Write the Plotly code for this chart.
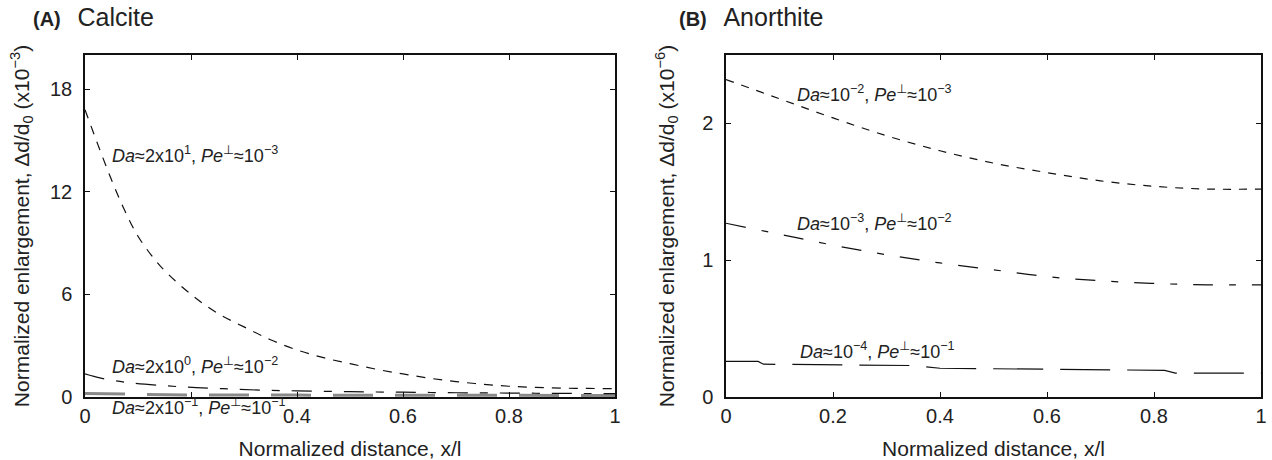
import plotly.graph_objects as go

# ---------------- data ----------------
x_a1 = [0, 0.025, 0.05, 0.075, 0.1, 0.125, 0.15, 0.2, 0.25, 0.3, 0.35, 0.4, 0.45, 0.5,
        0.55, 0.6, 0.65, 0.7, 0.75, 0.8, 0.85, 0.9, 0.95, 1.0]
y_a1 = [16.8, 14.7, 12.7, 10.9, 9.4, 8.3, 7.4, 6.0, 4.9, 4.1, 3.35, 2.75, 2.3, 1.95,
        1.62, 1.35, 1.1, 0.9, 0.75, 0.63, 0.56, 0.52, 0.5, 0.49]

x_a2 = [0, 0.03, 0.08, 0.15, 0.21, 0.27, 0.33, 0.4, 0.5, 0.6, 0.7, 0.8, 0.9, 1.0]
y_a2 = [1.35, 1.1, 0.85, 0.66, 0.55, 0.47, 0.40, 0.36, 0.31, 0.28, 0.25, 0.23, 0.21, 0.2]

x_a3 = [0, 0.05, 0.1, 0.2, 0.4, 0.6, 0.8, 1.0]
y_a3 = [0.2, 0.17, 0.14, 0.12, 0.11, 0.1, 0.09, 0.09]

x_b1 = [0, 0.1, 0.2, 0.3, 0.4, 0.5, 0.6, 0.7, 0.8, 0.9, 1.0]
y_b1 = [2.32, 2.18, 2.04, 1.91, 1.80, 1.71, 1.64, 1.58, 1.54, 1.52, 1.52]

x_b2 = [0, 0.1, 0.2, 0.3, 0.4, 0.5, 0.6, 0.7, 0.8, 0.9, 1.0]
y_b2 = [1.27, 1.19, 1.11, 1.04, 0.98, 0.93, 0.88, 0.85, 0.83, 0.82, 0.82]

x_b3 = [0, 0.06, 0.07, 0.2, 0.35, 0.4, 0.6, 0.7, 0.82, 0.84, 1.0]
y_b3 = [0.26, 0.26, 0.24, 0.235, 0.23, 0.21, 0.205, 0.2, 0.195, 0.175, 0.175]

x_ticks = [0, 0.2, 0.4, 0.6, 0.8, 1]
x_ticktext_a = ["0", "", "0.4", "0.6", "0.8", "1"]
x_ticktext_b = ["0", "0.2", "0.4", "0.6", "0.8", "1"]
y_ticks_a = [0, 6, 12, 18]
y_ticks_b = [0, 1, 2]

FONT = "Liberation Sans, Arial, Helvetica, sans-serif"
TXT = "#222222"

fig = go.Figure()

def add(x, y, xa, ya, dash, color="#111111", width=1.2, shape="linear"):
    fig.add_trace(go.Scatter(x=x, y=y, mode="lines", xaxis=xa, yaxis=ya,
                             line=dict(color=color, width=width, dash=dash, shape=shape),
                             showlegend=False, hoverinfo="skip"))

add(x_a3, y_a3, "x", "y", "40px,22px", color="#8a8a8a", width=3)
add(x_a1, y_a1, "x", "y", "9px,8px", shape="spline")
add(x_a2, y_a2, "x", "y", "20px,12px,8px,12px", shape="spline")
add(x_b1, y_b1, "x2", "y2", "8px,8px", shape="spline")
add(x_b2, y_b2, "x2", "y2", "20px,16px,7px,16px", shape="spline")
add(x_b3, y_b3, "x2", "y2", "50px,17px")

W, H = 1272, 460
top_px, bot_px = 55, 397
ydom = [1 - bot_px / H, 1 - top_px / H]

axis_common = dict(
    showline=True, linecolor="#111111", linewidth=1.5, mirror="allticks",
    ticks="inside", ticklen=5, tickwidth=1, tickcolor="#111111",
    showgrid=False, zeroline=False, automargin=False,
    tickfont=dict(family=FONT, size=20, color=TXT),
)
title_font = dict(family=FONT, size=21, color=TXT)

fig.update_layout(
    width=W, height=H,
    margin=dict(l=0, r=0, t=0, b=0),
    paper_bgcolor="white", plot_bgcolor="white",
    xaxis=dict(domain=[85 / W, 615 / W], range=[0, 1], tickvals=x_ticks,
               ticktext=x_ticktext_a, anchor="y", ticklabelstandoff=0,
               title=dict(text="Normalized distance, x/l", standoff=16, font=title_font),
               **axis_common),
    yaxis=dict(domain=ydom, range=[0, 20], tickvals=y_ticks_a, anchor="x",
               ticklabelstandoff=7,
               title=dict(text="Normalized enlargement, Δd/d<sub>0</sub> (x10<sup>−3</sup>)",
                          standoff=15, font=title_font),
               **axis_common),
    xaxis2=dict(domain=[726 / W, 1261 / W], range=[0, 1], tickvals=x_ticks,
                ticktext=x_ticktext_b, anchor="y2", ticklabelstandoff=0,
                title=dict(text="Normalized distance, x/l", standoff=16, font=title_font),
                **axis_common),
    yaxis2=dict(domain=ydom, range=[0, 2.5], tickvals=y_ticks_b, anchor="x2",
                ticklabelstandoff=7,
                title=dict(text="Normalized enlargement, Δd/d<sub>0</sub> (x10<sup>−6</sup>)",
                           standoff=22, font=title_font),
                **axis_common),
)

PERP = "<span style='font-family:DejaVu Sans'>⊥</span>"
ann_font = dict(family=FONT, size=18, color=TXT)
# (xref, yref, x, y) ; the third label sits just under the x axis, so it uses paper y
labels = [
    ("x", "y", 0.047, 14.2, f"<i>Da</i>≈2x10<sup>1</sup>, <i>Pe</i><sup>{PERP}</sup>≈10<sup>−3</sup>"),
    ("x", "y", 0.047, 1.9, f"<i>Da</i>≈2x10<sup>0</sup>, <i>Pe</i><sup>{PERP}</sup>≈10<sup>−2</sup>"),
    ("x", "paper", 0.047, 1 - 406 / H, f"<i>Da</i>≈2x10<sup>−1</sup>, <i>Pe</i><sup>{PERP}</sup>≈10<sup>−1</sup>"),
    ("x2", "y2", 0.129, 2.22, f"<i>Da</i>≈10<sup>−2</sup>, <i>Pe</i><sup>{PERP}</sup>≈10<sup>−3</sup>"),
    ("x2", "y2", 0.129, 1.28, f"<i>Da</i>≈10<sup>−3</sup>, <i>Pe</i><sup>{PERP}</sup>≈10<sup>−2</sup>"),
    ("x2", "y2", 0.134, 0.34, f"<i>Da</i>≈10<sup>−4</sup>, <i>Pe</i><sup>{PERP}</sup>≈10<sup>−1</sup>"),
]
for xr, yr, xv, yv, t in labels:
    fig.add_annotation(x=xv, y=yv, xref=xr, yref=yr, text=t, showarrow=False,
                       xanchor="left", yanchor="middle", font=ann_font)

for xp, t in [(31, "<b>(A)</b>   <span style='font-size:25px'>Calcite</span>"),
              (677, "<b>(B)</b>   <span style='font-size:25px'>Anorthite</span>")]:
    fig.add_annotation(x=xp / W, y=1 - 17 / H, xref="paper", yref="paper", text=t,
                       showarrow=False, xanchor="left", yanchor="middle",
                       font=dict(family=FONT, size=20, color=TXT))

fig.write_html("out.html", config={"displayModeBar": False},
               post_script="document.body.style.margin='0';document.body.style.overflow='hidden';")
